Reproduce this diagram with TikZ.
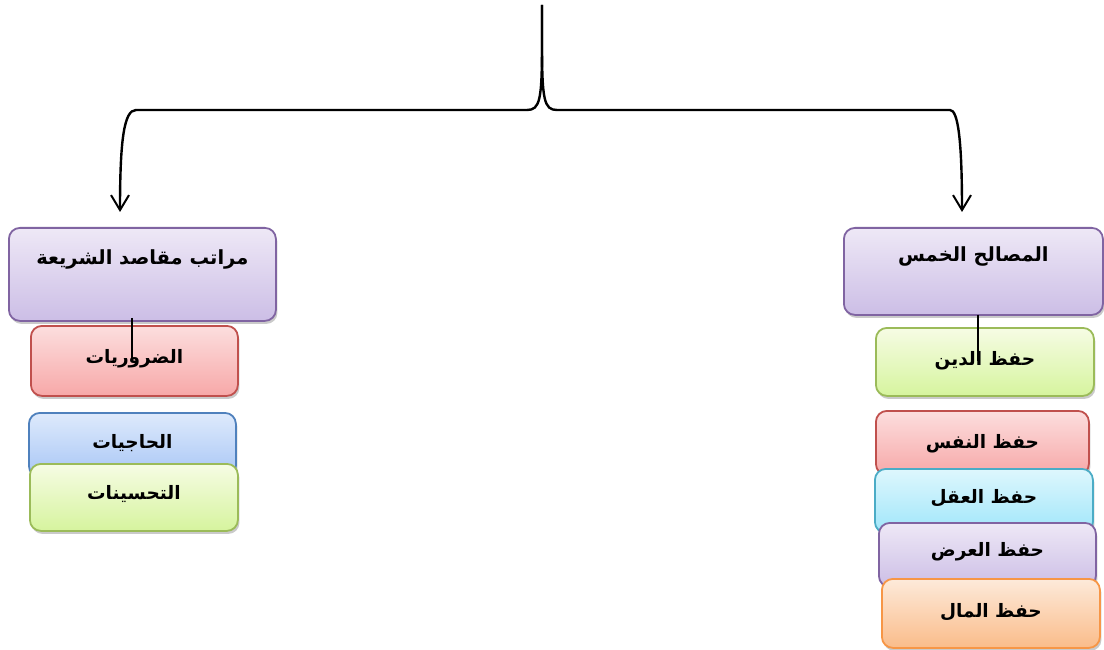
\documentclass[tikz,border=0pt]{standalone}
\usepackage{fontspec}
\newfontfamily\arabicfont[Script=Arabic]{DejaVu Sans}
\TeXXeTstate=1
\usetikzlibrary{shadows,arrows.meta}
\definecolor{pTop}{RGB}{238,232,246}\definecolor{pBot}{RGB}{204,190,230}\definecolor{pBd}{RGB}{128,100,162}
\definecolor{rTop}{RGB}{252,222,222}\definecolor{rBot}{RGB}{247,168,168}\definecolor{rBd}{RGB}{192,80,77}
\definecolor{bTop}{RGB}{222,234,252}\definecolor{bBot}{RGB}{168,198,245}\definecolor{bBd}{RGB}{79,129,189}
\definecolor{gTop}{RGB}{246,252,228}\definecolor{gBot}{RGB}{214,244,158}\definecolor{gBd}{RGB}{155,187,89}
\definecolor{cTop}{RGB}{222,247,253}\definecolor{cBot}{RGB}{160,230,250}\definecolor{cBd}{RGB}{75,172,198}
\definecolor{oTop}{RGB}{253,234,218}\definecolor{oBot}{RGB}{250,188,138}\definecolor{oBd}{RGB}{247,150,70}
\tikzset{
  box/.style={rounded corners=11pt, line width=1.8pt, anchor=north west, inner sep=0pt,
    font=\arabicfont\bfseries\fontsize{18.5}{20}\selectfont,
    drop shadow={shadow xshift=1.5pt, shadow yshift=-3pt, opacity=0.35, fill=black!60}},
  pbox/.style={box, draw=pBd, top color=pTop, bottom color=pBot,
    font=\arabicfont\bfseries\fontsize{19.5}{21}\selectfont, text height=11pt, text depth=31pt},
  rbox/.style={box, draw=rBd, top color=rTop, bottom color=rBot},
  bbox/.style={box, draw=bBd, top color=bTop, bottom color=bBot},
  gbox/.style={box, draw=gBd, top color=gTop, bottom color=gBot},
  cbox/.style={box, draw=cBd, top color=cTop, bottom color=cBot},
  obox/.style={box, draw=oBd, top color=oTop, bottom color=oBot},
  conn/.style={line width=2.4pt, black},
  tick/.style={line width=1.5pt, black},
  tip/.style={-{Straight Barb[length=15pt,width=18pt,line width=2pt]}}
}
\begin{document}
\begin{tikzpicture}[x=1pt,y=-1pt]
\useasboundingbox (0,0) rectangle (1104,650);
% left column
\node[pbox, minimum width=267pt, minimum height=93pt] (lp) at (8,227) {\beginR مراتب مقاصد الشريعة\endR};
\node[rbox, minimum width=207pt, minimum height=70pt, text depth=8pt] (lr) at (30,325) {\beginR الضروريات\endR};
\node[bbox, minimum width=207pt, minimum height=64pt, text depth=6pt] (lb) at (28,412) {\beginR الحاجيات\endR};
\node[gbox, minimum width=208pt, minimum height=67pt, text depth=10pt] (lg) at (29,463) {\beginR التحسينات\endR};
% right column
\node[pbox, minimum width=259pt, minimum height=87pt] (rp) at (843,227) {\beginR المصالح الخمس\endR};
\node[gbox, minimum width=218pt, minimum height=68pt, text depth=6pt] (rg) at (875,327) {\beginR حفظ الدين\endR};
\node[rbox, minimum width=213pt, minimum height=64pt, text depth=2pt] (rr) at (875,410) {\beginR حفظ النفس\endR};
\node[cbox, minimum width=218pt, minimum height=64pt, text depth=8pt] (rc) at (874,468) {\beginR حفظ العقل\endR};
\node[box, draw=pBd, top color=pTop, bottom color=pBot, minimum width=217pt, minimum height=64pt, text depth=10pt] (rw) at (878,522) {\beginR حفظ العرض\endR};
\node[obox, minimum width=218pt, minimum height=69pt, text depth=6pt] (ro) at (881,578) {\beginR حفظ المال\endR};
% small lines
\draw[tick] ([xshift=-10.5pt,yshift=4pt]lp.south) -- ++(0,41);
\draw[tick] ([xshift=4.5pt,yshift=1pt]rp.south) -- ++(0,46);
% top connector
\coordinate (top) at (542,5);
\coordinate (la) at (120,212);
\coordinate (ra) at (962,212);
\draw[conn,tip] (top) -- ++(0,38) .. controls (542,100) and (540,110) .. (527,110) -- (136,110) .. controls (124,110) and (120,140) .. (la);
\draw[conn,tip] (top) -- ++(0,38) .. controls (542,100) and (544,110) .. (557,110) -- (950,110) .. controls (958,110) and (962,140) .. (ra);
\end{tikzpicture}
\end{document}
